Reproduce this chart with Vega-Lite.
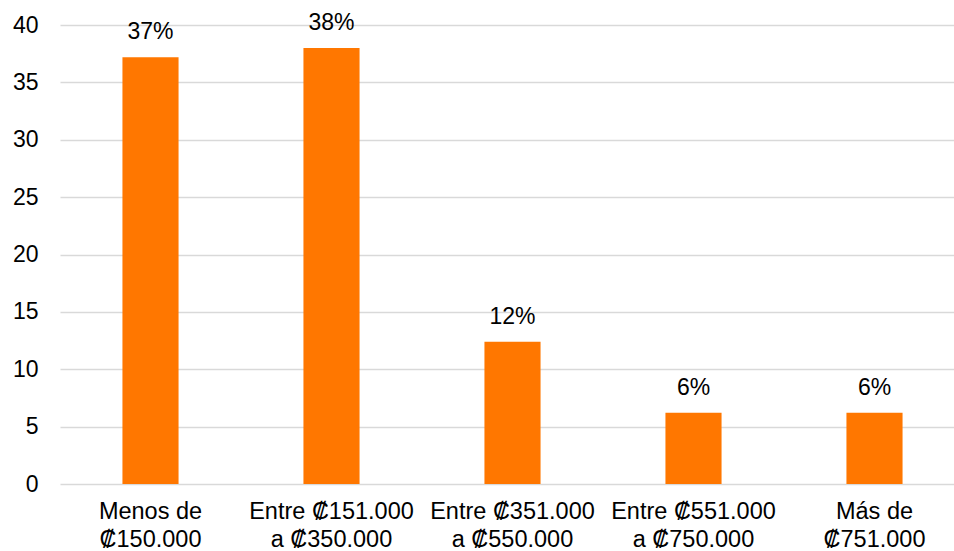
{
  "$schema": "https://vega.github.io/schema/vega-lite/v6.json",
  "width": 894,
  "height": 459,
  "autosize": {"type": "none"},
  "padding": {"left": 60, "top": 25, "right": 0, "bottom": 67},
  "background": "white",
  "config": {
    "view": {"stroke": null},
    "font": "Liberation Sans"
  },
  "data": {
    "values": [
      {"categoria": "Menos de|₡150.000", "valor": 37.2, "etiqueta": "37%"},
      {"categoria": "Entre ₡151.000|a ₡350.000", "valor": 38.0, "etiqueta": "38%"},
      {"categoria": "Entre ₡351.000|a ₡550.000", "valor": 12.4, "etiqueta": "12%"},
      {"categoria": "Entre ₡551.000|a ₡750.000", "valor": 6.2, "etiqueta": "6%"},
      {"categoria": "Más de|₡751.000", "valor": 6.2, "etiqueta": "6%"}
    ]
  },
  "encoding": {
    "x": {
      "field": "categoria",
      "type": "nominal",
      "sort": null,
      "scale": {"range": [0, 905], "paddingInner": 0.69, "paddingOuter": 0.345},
      "axis": {
        "title": null,
        "labelAngle": 0,
        "domain": false,
        "ticks": false,
        "labelExpr": "split(datum.value, '|')",
        "labelFont": "Liberation Sans",
        "labelFontSize": 23.5,
        "labelLineHeight": 28,
        "labelColor": "#000000",
        "labelPadding": 15,
        "labelBaseline": "top"
      }
    },
    "y": {
      "field": "valor",
      "type": "quantitative",
      "scale": {"domain": [0, 40], "nice": false},
      "axis": {
        "title": null,
        "values": [0, 5, 10, 15, 20, 25, 30, 35, 40],
        "domain": false,
        "ticks": false,
        "grid": true,
        "gridColor": "#d9d9d9",
        "gridWidth": 1.5,
        "labelFont": "Liberation Sans",
        "labelFontSize": 23,
        "labelColor": "#000000",
        "labelPadding": 22
      }
    }
  },
  "layer": [
    {
      "mark": {"type": "bar", "color": "#ff7700"}
    },
    {
      "mark": {
        "type": "text",
        "baseline": "alphabetic",
        "dy": -18,
        "font": "Liberation Sans",
        "fontSize": 23,
        "color": "#000000"
      },
      "encoding": {
        "text": {"field": "etiqueta"}
      }
    }
  ]
}
